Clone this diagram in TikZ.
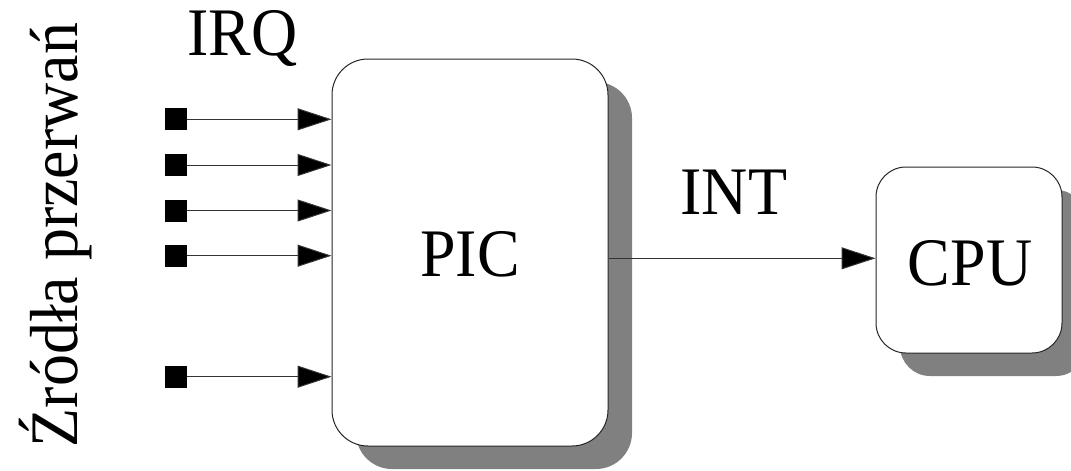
\documentclass[tikz,border=0pt]{standalone}
\usepackage{fontspec}
\setmainfont{Liberation Serif}
\newfontfamily\diagfont{Liberation Serif}[FakeStretch=0.94]
\usetikzlibrary{arrows.meta,shadows}

\tikzset{
  bigtext/.style={font=\diagfont\fontsize{68}{80}\selectfont},
  block/.style={draw=black!85, line width=1pt, fill=white, rounded corners=#1,
    inner sep=0pt, bigtext,
    drop shadow={shadow xshift=24pt, shadow yshift=-23pt, fill=black!50, opacity=1}},
  source/.style={fill=black, inner sep=0pt, minimum size=22pt},
  wire/.style={draw=black!80, line width=1pt,
    -{Triangle[length=34pt,width=22pt,fill=black]}},
}

\begin{document}
\begin{tikzpicture}[x=1pt,y=-1pt]
  \useasboundingbox (0,0) rectangle (1071,471);

  % interrupt controller and processor
  \node[block=36pt, minimum width=276pt, minimum height=387pt] (pic) at (470,252.5) {};
  \node[block=30pt, minimum width=186pt, minimum height=186pt] (cpu) at (969,260) {};
  \node[bigtext, anchor=base, inner sep=0pt] (pictext) at (470,276.7) {PIC};
  \node[bigtext, anchor=base, inner sep=0pt] (cputext) at (970,285) {CPU};

  % interrupt request sources
  \node[source] (s1) at (175.7,119.3) {};
  \node[source] (s2) at (175.7,165) {};
  \node[source] (s3) at (175.7,210.5) {};
  \node[source] (s4) at (175.7,255.7) {};
  \node[source] (s5) at (175.7,376.7) {};

  \foreach \s in {s1,s2,s3,s4,s5}
    \draw[wire] (\s.east) -- (\s.east -| pic.west);

  % interrupt line to the processor
  \coordinate (intstart) at (pic.east |- 0,258.3);
  \draw[wire] (intstart) -- (intstart -| cpu.west);

  % labels
  \node[bigtext, anchor=base west, inner sep=0pt] (irq) at (187,55) {IRQ};
  \node[bigtext, anchor=base west, inner sep=0pt] (int) at (680.5,214.5) {INT};
  \node[bigtext, rotate=90, anchor=base, inner sep=0pt] (src) at (77.3,235) {Źródła przerwań};
\end{tikzpicture}
\end{document}
